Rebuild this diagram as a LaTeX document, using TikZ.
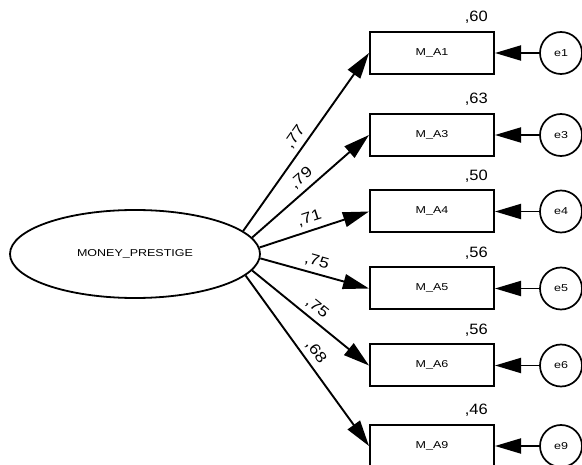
\documentclass[tikz,border=0pt]{standalone}
\usepackage{fontspec}
\setmainfont{Liberation Sans}
\newfontfamily\widefont{Liberation Sans}[FakeStretch=1.25]
\newfontfamily\coeffont{Liberation Sans}[FakeStretch=1.18]
\newfontfamily\estfont{Liberation Sans}[FakeStretch=1.1]
\usetikzlibrary{arrows.meta,shapes.geometric}
\begin{document}
\begin{tikzpicture}[x=1pt,y=-1pt,
  obs/.style={draw, line width=2pt, minimum width=124pt, minimum height=42pt, inner sep=0pt,
    font=\widefont\fontsize{10}{12}\selectfont},
  err/.style={draw, circle, line width=1.7pt, minimum size=42pt, inner sep=0pt,
    font=\widefont\fontsize{10}{12}\selectfont},
  lat/.style={draw, ellipse, line width=1.8pt, minimum width=250pt, minimum height=88pt, inner sep=0pt,
    font=\widefont\fontsize{10}{12}\selectfont},
  regpath/.style={line width=1.9pt, -{Triangle[length=26pt,width=15pt]}},
  est/.style={font=\estfont\fontsize{15}{17}\selectfont, inner sep=0pt, anchor=base east},
  coef/.style={font=\coeffont\fontsize{15}{17}\selectfont, inner sep=0pt, sloped, above=5pt, pos=0.49}
]
\useasboundingbox (0,0) rectangle (582,465);

\node[lat] (F) at (135,254) {MONEY\_PRESTIGE};

\node[obs] (A1) at (432,53) {M\_A1};
\node[obs] (A3) at (432,135) {M\_A3};
\node[obs] (A4) at (432,211.5) {M\_A4};
\node[obs] (A5) at (432,288.5) {M\_A5};
\node[obs] (A6) at (432,365.5) {M\_A6};
\node[obs] (A9) at (432,446) {M\_A9};

\foreach \n/\e/\v in {A1/e1/{,60}, A3/e3/{,63}, A4/e4/{,50}, A5/e5/{,56}, A6/e6/{,56}, A9/e9/{,46}}{
  \node[err] (\e) at (561,0 |- \n) {\e};
  \draw[regpath] (\e) -- (\n);
  \node[est] (v\n) at ([xshift=-7pt,yshift=9pt]\n.north east) {\v};
}

\draw[regpath] (F.12.3) -- (A1.west) node[coef] (c1) {,77};
\draw[regpath] (F.8.2) -- (A3.west) node[coef] (c3) {,79};
\draw[regpath] (F.3.2) -- (A4.west) node[coef] (c4) {,71};
\draw[regpath] (F.-2.3) -- (A5.west) node[coef] (c5) {,75};
\draw[regpath] (F.-8.5) -- (A6.west) node[coef] (c6) {,75};
\draw[regpath] (F.-11.8) -- (A9.west) node[coef] (c9) {,68};
\end{tikzpicture}
\end{document}
